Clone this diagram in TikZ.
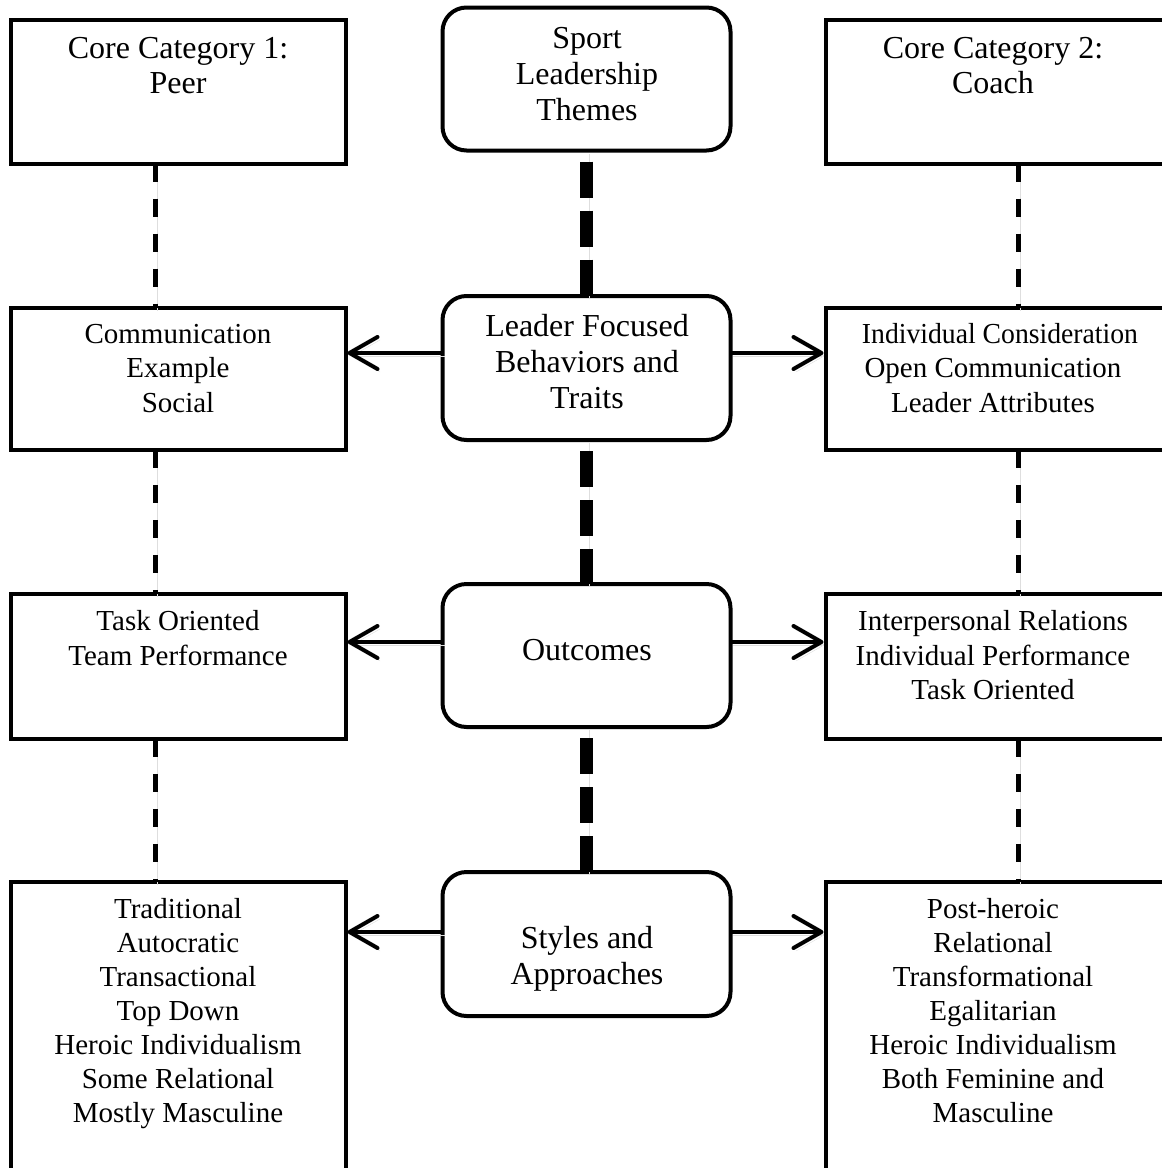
\documentclass[tikz,border=0pt]{standalone}
\usepackage{fontspec}
\setmainfont{Liberation Serif}
\usetikzlibrary{arrows.meta}
\begin{document}
\begin{tikzpicture}[x=1pt,y=-1pt,
  rectbox/.style={draw=black, line width=4pt, rectangle, anchor=north west, inner sep=0pt, outer sep=0pt, minimum height=144pt},
  roundbox/.style={draw=black, line width=4pt, rounded corners=24pt, minimum width=288pt, minimum height=144pt, anchor=north west, inner sep=0pt, outer sep=0pt},
  boxtext/.style={anchor=north, inner sep=0pt, align=center, font=\fontsize{29}{34.5}\selectfont},
  toptext/.style={anchor=north, inner sep=0pt, align=center, font=\fontsize{32}{35}\selectfont},
  midtext/.style={anchor=north, inner sep=0pt, align=center, font=\fontsize{32}{36}\selectfont},
  shadowed/.style={preaction={draw=black!13, transform canvas={xshift=2.5pt,yshift=-3pt}}},
  sidedash/.style={shadowed, line width=5pt, dash pattern=on 18pt off 17pt},
  middash/.style={shadowed, line width=13pt, dash pattern=on 36pt off 13pt, dash phase=38pt},
  arr/.style={shadowed, line width=4pt, -{Straight Barb[length=28pt,width=32pt,round]}},
]
\useasboundingbox (0,0) rectangle (1162,1168);
\clip (0,0) rectangle (1162,1168);

% dashed connectors and arrows are drawn after the boxes
% left column boxes
\node[rectbox, minimum width=335pt] (l1) at (10.5,19.5) {};
\node[rectbox, minimum width=335pt, minimum height=142.5pt] (l2) at (10.5,307.5) {};
\node[rectbox, minimum width=335pt, minimum height=145.5pt] (l3) at (10.5,593.5) {};
\node[rectbox, minimum width=335pt, minimum height=320pt] (l4) at (10.5,882) {};

% right column boxes
\node[rectbox, minimum width=345pt] (r1) at (825.5,19.5) {};
\node[rectbox, minimum width=345pt, minimum height=142.5pt] (r2) at (825.5,307.5) {};
\node[rectbox, minimum width=345pt, minimum height=145.5pt] (r3) at (825.5,593.5) {};
\node[rectbox, minimum width=345pt, minimum height=320pt] (r4) at (825.5,882) {};

% center boxes
\node[roundbox, minimum height=143pt] (c1) at (442.5,7.5) {};
\node[roundbox] (c2) at (442.5,296) {};
\node[roundbox, minimum height=143pt] (c3) at (442.5,584) {};
\node[roundbox] (c4) at (442.5,872) {};

% texts of center boxes
\node[midtext] (tc1) at (587,22.8) {\strut Sport\\Leadership\\Themes};
\node[midtext] (tc2) at (587,310.8) {\strut Leader Focused\\Behaviors and\\Traits};
\node[midtext] (tc3) at (587,634.8) {\strut Outcomes};
\node[midtext] (tc4) at (587,922.8) {\strut Styles and\\Approaches};

% texts of left boxes
\node[toptext] (tl1) at (178,33.5) {\strut Core Category 1:\\Peer};
\node[boxtext] (tl2) at (178,319) {\strut Communication\\Example\\Social};
\node[boxtext] (tl3) at (178,606.5) {\strut Task Oriented\\Team Performance};
\node[boxtext, font=\fontsize{29}{34}\selectfont] (tl4) at (178,894.5) {\strut Traditional\\Autocratic\\Transactional\\Top Down\\Heroic Individualism\\Some Relational\\Mostly Masculine};

% texts of right boxes
\node[toptext] (tr1) at (993,33.5) {\strut Core Category 2:\\Coach};
\node[boxtext] (tr2) at (993,319) {\strut \hspace*{14pt}\scalebox{0.955}[1]{Individual Consideration}\\Open Communication\\Leader Attributes};
\node[boxtext] (tr3) at (993,606.5) {\strut Interpersonal Relations\\Individual Performance\\Task Oriented};
\node[boxtext, font=\fontsize{29}{34}\selectfont] (tr4) at (993,894.5) {\strut Post-heroic\\Relational\\Transformational\\Egalitarian\\Heroic Individualism\\Both Feminine and\\Masculine};

% dashed connectors
\coordinate (xl) at (155,0);
\coordinate (xr) at (1018,0);
\draw[sidedash] (l1.south -| xl) -- (l2.north -| xl);
\draw[sidedash] (l2.south -| xl) -- (l3.north -| xl);
\draw[sidedash] (l3.south -| xl) -- (l4.north -| xl);
\draw[sidedash] (r1.south -| xr) -- (r2.north -| xr);
\draw[sidedash] (r2.south -| xr) -- (r3.north -| xr);
\draw[sidedash] (r3.south -| xr) -- (r4.north -| xr);
\draw[middash] (c1.south) -- (c2.north);
\draw[middash] (c2.south) -- (c3.north);
\draw[middash] (c3.south) -- (c4.north);

% arrows
\coordinate (y2) at (0,353);
\coordinate (y3) at (0,642);
\coordinate (y4) at (0,932);
\draw[arr] (c2.west |- y2) -- ([xshift=2pt]l2.east |- y2);
\draw[arr] (c2.east |- y2) -- ([xshift=-2pt]r2.west |- y2);
\draw[arr] (c3.west |- y3) -- ([xshift=2pt]l3.east |- y3);
\draw[arr] (c3.east |- y3) -- ([xshift=-2pt]r3.west |- y3);
\draw[arr] (c4.west |- y4) -- ([xshift=2pt]l4.east |- y4);
\draw[arr] (c4.east |- y4) -- ([xshift=-2pt]r4.west |- y4);
\end{tikzpicture}
\end{document}
